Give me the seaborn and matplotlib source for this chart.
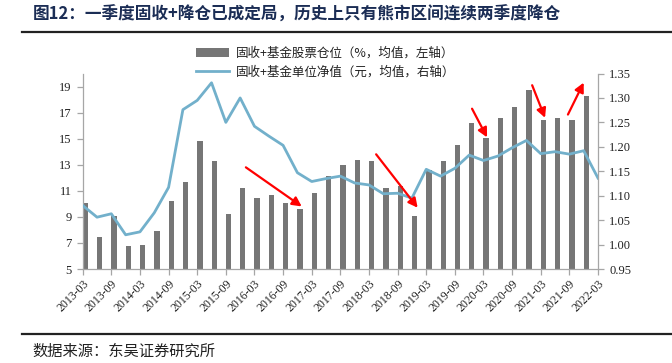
import numpy as np
import pandas as pd
import matplotlib
matplotlib.use("Agg")
import matplotlib.pyplot as plt
from matplotlib.lines import Line2D
from matplotlib.patches import Patch
import seaborn as sns

# ---------------- data ----------------
quarters = ["2013-03", "2013-06", "2013-09", "2013-12", "2014-03", "2014-06", "2014-09", "2014-12",
            "2015-03", "2015-06", "2015-09", "2015-12", "2016-03", "2016-06", "2016-09", "2016-12",
            "2017-03", "2017-06", "2017-09", "2017-12", "2018-03", "2018-06", "2018-09", "2018-12",
            "2019-03", "2019-06", "2019-09", "2019-12", "2020-03", "2020-06", "2020-09", "2020-12",
            "2021-03", "2021-06", "2021-09", "2021-12", "2022-03"]
stock_pos = [10.1, 7.45, 9.05, 6.8, 6.85, 7.95, 10.2, 11.7, 14.8, 13.3, 9.25, 11.2,
             10.45, 10.7, 10.1, 9.6, 10.8, 12.1, 13.0, 13.4, 13.3, 11.2, 11.35, 9.1,
             12.6, 13.3, 14.55, 16.2, 15.05, 16.6, 17.4, 18.75, 16.4, 16.55, 16.4, 18.3]
nav = [1.080, 1.056, 1.063, 1.020, 1.026, 1.065, 1.117, 1.276, 1.295, 1.331, 1.250, 1.300,
       1.242, 1.222, 1.203, 1.147, 1.129, 1.135, 1.140, 1.126, 1.122, 1.104, 1.105, 1.095,
       1.154, 1.140, 1.156, 1.183, 1.172, 1.181, 1.198, 1.213, 1.186, 1.190, 1.185, 1.192, 1.136]
tick_labels = quarters[::2]
left_ticks = [5, 7, 9, 11, 13, 15, 17, 19]
right_ticks = [0.95, 1.00, 1.05, 1.10, 1.15, 1.20, 1.25, 1.30, 1.35]
# arrows: (x_start, y_start, x_end, y_end) in category index / left-axis units
arrows = [(11.4, 12.8, 15.3, 9.8),
          (20.5, 13.8, 23.4, 9.7),
          (27.2, 17.3, 28.25, 15.1),
          (31.4, 19.1, 32.3, 16.6),
          (33.9, 16.85, 35.0, 19.3)]

title = "图12：一季度固收+降仓已成定局，历史上只有熊市区间连续两季度降仓"
source = "数据来源：东吴证券研究所"
label_bar = "固收+基金股票仓位（%，均值，左轴）"
label_line = "固收+基金单位净值（元，均值，右轴）"

CJK = ["Noto Sans CJK SC", "DejaVu Sans"]
SERIF = ["Liberation Serif", "Noto Sans CJK SC"]
BAR_C = "#767676"
LINE_C = "#72b0cb"
AX_C = "#a6a6a6"
TXT_C = "#222222"
BAR_W = 0.37

# ---------------- figure ----------------
fig = plt.figure(figsize=(6.72, 3.63), dpi=100)
L, R, B, T = 82.7 / 672, 598 / 672, 1 - 269 / 363, 1 - 73.5 / 363
ax = fig.add_axes([L, B, R - L, T - B])

# bars sit just right of each category tick (left edge on the tick), as in the source
df_bar = pd.DataFrame({"idx": np.arange(len(stock_pos)) + BAR_W / 2, "pos": stock_pos})
sns.barplot(data=df_bar, x="idx", y="pos", native_scale=True, color=BAR_C,
            saturation=1, width=BAR_W, errorbar=None, linewidth=0, ax=ax)
ax.set_xlim(0, len(quarters) - 1)
ax.set_ylim(5, 20)
ax.set_yticks(left_ticks)
ax.set_xticks(np.arange(0, len(quarters), 2))
ax.set_xticklabels(tick_labels, rotation=45, ha="right", rotation_mode="anchor",
                   family=SERIF, fontsize=8.5, color=TXT_C)
ax.set_yticklabels([str(v) for v in left_ticks], family=SERIF, fontsize=9, color=TXT_C)
ax.set_xlabel("")
ax.set_ylabel("")

ax2 = ax.twinx()
df_line = pd.DataFrame({"idx": np.arange(len(nav)), "nav": nav})
sns.lineplot(data=df_line, x="idx", y="nav", color=LINE_C, linewidth=2.0, ax=ax2)
ax2.set_ylim(0.95, 1.35)
ax2.set_yticks(right_ticks)
ax2.set_yticklabels([f"{v:.2f}" for v in right_ticks], family=SERIF, fontsize=9, color=TXT_C)
ax2.set_xlim(0, len(quarters) - 1)
ax2.set_xlabel("")
ax2.set_ylabel("")

for a in (ax, ax2):
    a.spines["top"].set_visible(False)
    for s in ("left", "right", "bottom"):
        a.spines[s].set_color(AX_C)
        a.spines[s].set_linewidth(0.9)
    a.tick_params(axis="both", colors=AX_C, labelcolor=TXT_C, length=4, width=0.9, direction="out")
    a.patch.set_alpha(0)
ax.spines["right"].set_visible(False)
ax2.spines["left"].set_visible(False)
ax2.spines["bottom"].set_visible(False)
ax.tick_params(axis="x", pad=2)
ax.tick_params(axis="y", pad=4)
ax2.tick_params(axis="y", pad=4)

# red arrows (drawn on top, in left-axis coordinates)
for x0, y0, x1, y1 in arrows:
    ax2.annotate("", xy=(x1, y1), xytext=(x0, y0),
                 xycoords=ax.transData, textcoords=ax.transData,
                 arrowprops=dict(arrowstyle="-|>,head_length=0.55,head_width=0.28",
                                 color="#ff0000", lw=1.6, shrinkA=0, shrinkB=0))

# legend
handles = [Patch(facecolor=BAR_C, edgecolor="none"),
           Line2D([0], [0], color=LINE_C, lw=2.0)]
fig.legend(handles, [label_bar, label_line], loc="upper left",
           bbox_to_anchor=(196 / 672, 1 - 47 / 363), frameon=False,
           prop={"family": CJK, "size": 9}, handlelength=2.6, handleheight=0.8,
           handletextpad=0.6, labelspacing=0.45, borderpad=0, borderaxespad=0,
           labelcolor=TXT_C)

# title, rules, source
fig.text(33 / 672, 1 - 15 / 363, title, family=CJK, fontsize=12, fontweight="bold",
         color="#1b2d55", va="center", ha="left")
fig.add_artist(Line2D([22 / 672, 1], [1 - 31.7 / 363] * 2, color="#222222", lw=1.6))
fig.add_artist(Line2D([22 / 672, 1], [1 - 334.3 / 363] * 2, color="#222222", lw=1.6))
fig.text(32 / 672, 1 - 351.5 / 363, source, family=CJK, fontsize=11, color=TXT_C,
         va="center", ha="left")

fig.savefig("out.png", dpi=100)
